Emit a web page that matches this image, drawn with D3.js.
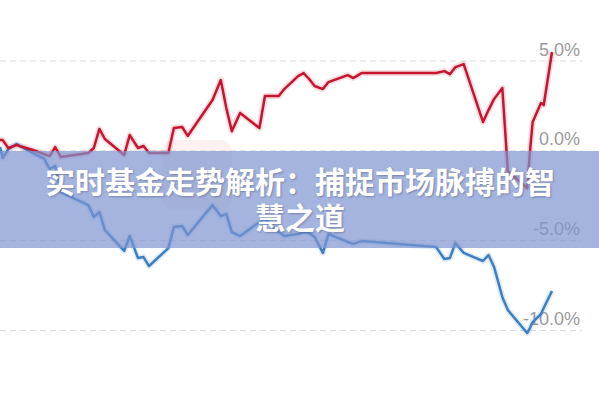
<html>
<head>
 <meta http-equiv="Content-Type" content="text/html; charset=UTF-8">
 <title>实时基金走势</title>
 <style>
body {
	margin: 0;
	background: #fff;
}
.grid_line {
	stroke: #dcdcdc;
	stroke-width: 1;
	stroke-dasharray: 6,4;
}
.tick_label {
	font-family: "Liberation Sans", Arial, sans-serif;
	font-size: 18px;
	fill: #9a9a9a;
	text-anchor: end;
}
.title_text {
	font-family: "Noto Sans CJK SC", sans-serif;
	font-weight: 700;
	font-size: 30px;
	fill: #fff;
	text-anchor: middle;
	text-shadow: 1px 1px 2px rgba(40,50,90,0.35);
}
 </style>
</head>
<body>
<div id="chart"></div>

<script src="https://d3js.org/d3.v7.min.js"></script>
<script>
// trading day index (0..200) of each vertex
var days = [0, 1, 3, 6, 12, 16, 18, 20, 22, 32, 34, 36, 38, 45, 47, 50, 52, 54, 61, 63, 66, 68,
	77, 80, 82, 84, 87, 94, 96, 101, 103, 108, 110, 112, 114, 117, 119, 126, 128, 131,
	158, 161, 163, 165, 168, 175, 177, 179, 182, 184, 191, 192, 193, 196, 197, 200];

// fund return, %
var fundValues = [0.57, 0.57, 0.13, 0.29, 0.02, -0.21, -0.32, 0.18, -0.37, -0.15, 0.13, 1.19, 0.63,
	-0.26, 0.85, 0.13, 0.24, -0.15, -0.15, 1.24, 1.30, 0.80, 2.80, 3.91, 2.35, 1.07, 2.08,
	1.24, 3.02, 3.02, 3.41, 4.13, 4.30, 3.97, 3.58, 3.41, 3.80, 4.19, 4.02, 4.30,
	4.30, 4.41, 4.24, 4.63, 4.80, 1.58, 2.24, 2.85, 3.47, -1.15, -2.10, -0.09, 1.58, 2.63, 2.52, 5.47];

// benchmark return, %
var benchValues = [0.18, -0.43, 0.07, 0.35, -0.15, -0.48, -1.04, -0.87, -2.32, -3.05, -3.71, -3.43, -4.44,
	-5.60, -4.77, -5.99, -5.94, -6.44, -5.44, -4.27, -4.21, -4.71, -3.05, -3.66, -3.55, -4.55, -4.77,
	-3.99, -3.82, -4.55, -4.77, -4.66, -4.55, -4.60, -4.82, -5.71, -4.66, -5.10, -5.21, -5.05,
	-5.38, -6.05, -5.99, -5.16, -5.71, -6.16, -5.83, -6.49, -8.16, -8.89, -10.17, -9.89, -9.56, -9.11, -8.78, -7.83];

var tickValues = [5, 0, -5, -10];
var tickLabels = ["5.0%", "0.0%", "-5.0%", "-10.0%"];

var titleLines = ["实时基金走势解析：捕捉市场脉搏的智", "慧之道"];

function drawChart() {
	var width = 599; var height = 400;

	var svg = d3.select("#chart").append("svg")
		.attr("width", width)
		.attr("height", height);

	var x = d3.scaleLinear().domain([0, 200]).range([0, 552]);
	var y = d3.scaleLinear().domain([5, -10]).range([60.5, 330]);

	// grid + labels
	svg.selectAll(".grid_line")
		.data(tickValues)
		.enter()
		.append("line")
		.attr("class", "grid_line")
		.attr("x1", 0)
		.attr("x2", 582)
		.attr("y1", function(d){ return y(d) + 0.5; })
		.attr("y2", function(d){ return y(d) + 0.5; });

	svg.selectAll(".tick_label")
		.data(tickValues)
		.enter()
		.append("text")
		.attr("class", "tick_label")
		.attr("x", 580)
		.attr("y", function(d){ return y(d) - 5; })
		.text(function(d, i){ return tickLabels[i]; });

	// faint watermark logo
	svg.append("rect")
		.attr("x", 162).attr("y", 140)
		.attr("width", 70).attr("height", 70)
		.attr("rx", 12)
		.attr("fill", "#f3d6d6")
		.attr("opacity", 0.35);

	var line = d3.line()
		.x(function(d){ return x(d[0]); })
		.y(function(d){ return y(d[1]); });

	var series = [
		{ values: benchValues, color: "#3d7fc1" },
		{ values: fundValues, color: "#c8152f" }
	];

	series.forEach(function(s) {
		var pts = days.map(function(d, i){ return [d, s.values[i]]; });
		svg.append("path")
			.datum(pts)
			.attr("d", line)
			.attr("fill", "none")
			.attr("stroke", s.color)
			.attr("stroke-opacity", 0.15)
			.attr("stroke-width", 6)
			.attr("stroke-linejoin", "round");
		svg.append("path")
			.datum(pts)
			.attr("d", line)
			.attr("fill", "none")
			.attr("stroke", s.color)
			.attr("stroke-width", 2.5)
			.attr("stroke-linejoin", "round");
	});

	// title band
	svg.append("rect")
		.attr("x", 0).attr("y", 151)
		.attr("width", width).attr("height", 97)
		.attr("fill", "rgb(126,148,208)")
		.attr("fill-opacity", 0.7);

	var title = svg.append("text")
		.attr("class", "title_text")
		.attr("y", 193);

	title.selectAll("tspan")
		.data(titleLines)
		.enter()
		.append("tspan")
		.attr("x", 300)
		.attr("dy", function(d, i){ return i == 0 ? 0 : 36; })
		.text(function(d){ return d; });
}

drawChart();
</script>
</body>
</html>
